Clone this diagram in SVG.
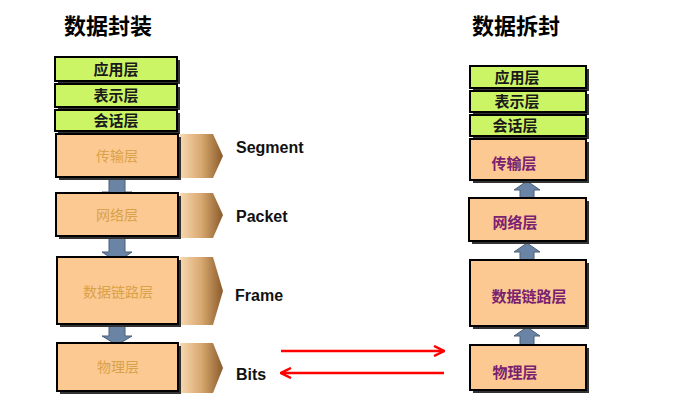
<svg xmlns="http://www.w3.org/2000/svg" width="693" height="414" viewBox="0 0 693 414">
<style>
.title{font-family:"Noto Sans CJK SC","Noto Sans CJK JP",sans-serif;font-size:22px;font-weight:bold;fill:#000}
.g{fill:#ccf566;stroke:#000;stroke-width:2}
.o{fill:#fcc992;stroke:#000;stroke-width:2}
.sh{fill:#333}
.lt{font-family:"Noto Sans CJK SC",sans-serif;font-size:15px;font-weight:bold;fill:#1a1a1a;text-anchor:middle}
.ot{font-family:"Noto Sans CJK SC",sans-serif;font-size:14px;fill:#d9a24a;text-anchor:middle}
.pt{font-family:"Noto Sans CJK SC",sans-serif;font-size:15px;font-weight:bold;fill:#7a2170;text-anchor:middle}
.en{font-family:"Liberation Sans",Arial,sans-serif;font-size:16px;font-weight:bold;fill:#111}
.ar{fill:#6a84a6;stroke:#4a5e78;stroke-width:1}
.red{stroke:#f00;stroke-width:2.5;fill:none}
</style>
<defs>
<linearGradient id="tab" x1="0" x2="1" y1="0" y2="0">
<stop offset="0" stop-color="#f8d8b0"/>
<stop offset="0.5" stop-color="#d8a870"/>
<stop offset="1" stop-color="#8a5a2a"/>
</linearGradient>
<marker id="ah" viewBox="0 0 10 10" refX="9" refY="5" markerWidth="5" markerHeight="5" orient="auto-start-reverse">
<path d="M1,1 L9,5 L1,9" fill="none" stroke="#f00" stroke-width="2"/>
</marker>
</defs>
<text class="title" x="64" y="34">数据封装</text>
<text class="title" x="472" y="34">数据拆封</text>

<g id="connectors">
<path class="ar" d="M109,178 h16 v14 h7 l-15,10 l-15,-10 h7 z"/>
<path class="ar" d="M109,238 h16 v14 h7 l-15,10 l-15,-10 h7 z"/>
<path class="ar" d="M109,326 h16 v10 h7 l-15,9 l-15,-9 h7 z"/>
<path class="ar" d="M520,198 h14 v-8 h6 l-13,-9 l-13,9 h6 z"/>
<path class="ar" d="M520,260 h14 v-8 h6 l-13,-9 l-13,9 h6 z"/>
<path class="ar" d="M520,345 h14 v-9 h6 l-13,-9 l-13,9 h6 z"/>
<line class="red" x1="281" y1="351" x2="444" y2="351" marker-end="url(#ah)"/>
<line class="red" x1="444" y1="373" x2="281" y2="373" marker-end="url(#ah)"/>
</g>

<g id="left-app"><rect class="sh" x="58" y="60" width="122" height="24"/><rect class="g" x="55" y="57" width="122" height="24"/><text class="lt" x="116" y="75">应用层</text></g>
<g id="left-pres"><rect class="sh" x="58" y="87" width="122" height="23"/><rect class="g" x="55" y="84" width="122" height="23"/><text class="lt" x="116" y="101">表示层</text></g>
<g id="left-sess"><rect class="sh" x="58" y="113" width="122" height="21"/><rect class="g" x="55" y="110" width="122" height="21"/><text class="lt" x="116" y="126">会话层</text></g>

<g id="left-trans"><path d="M180,134 h33 l10,22 l-10,22 h-33 z" fill="url(#tab)"/><rect class="sh" x="59" y="137" width="122" height="43"/><rect class="o" x="56" y="134" width="122" height="43"/><text class="ot" x="117" y="161">传输层</text><text class="en" x="236" y="153">Segment</text></g>
<g id="left-net"><path d="M180,193 h33 l10,22 l-10,23 h-33 z" fill="url(#tab)"/><rect class="sh" x="59" y="196" width="122" height="43"/><rect class="o" x="56" y="193" width="122" height="43"/><text class="ot" x="117" y="220">网络层</text><text class="en" x="236" y="222">Packet</text></g>
<g id="left-link"><path d="M180,257 h33 l10,34 l-10,34 h-33 z" fill="url(#tab)"/><rect class="sh" x="60" y="260" width="121" height="67"/><rect class="o" x="57" y="257" width="121" height="67"/><text class="ot" x="118" y="297">数据链路层</text><text class="en" x="235" y="301">Frame</text></g>
<g id="left-phys"><path d="M180,343 h33 l10,25 l-10,25 h-33 z" fill="url(#tab)"/><rect class="sh" x="60" y="346" width="121" height="48"/><rect class="o" x="57" y="343" width="121" height="48"/><text class="ot" x="118" y="372">物理层</text><text class="en" x="236" y="380">Bits</text></g>

<g id="right-app"><rect class="sh" x="473" y="69" width="116" height="22"/><rect class="g" x="470" y="66" width="116" height="22"/><text class="lt" x="517" y="83">应用层</text></g>
<g id="right-pres"><rect class="sh" x="473" y="94" width="116" height="21"/><rect class="g" x="470" y="91" width="116" height="21"/><text class="lt" x="517" y="107">表示层</text></g>
<g id="right-sess"><rect class="sh" x="473" y="118" width="116" height="21"/><rect class="g" x="470" y="115" width="116" height="21"/><text class="lt" x="515" y="131">会话层</text></g>
<g id="right-trans"><rect class="sh" x="473" y="142" width="116" height="41"/><rect class="o" x="470" y="139" width="116" height="41"/><text class="pt" x="514" y="169">传输层</text></g>
<g id="right-net"><rect class="sh" x="472" y="201" width="117" height="43"/><rect class="o" x="469" y="198" width="117" height="43"/><text class="pt" x="515" y="228">网络层</text></g>
<g id="right-link"><rect class="sh" x="473" y="263" width="116" height="66"/><rect class="o" x="470" y="260" width="116" height="66"/><text class="pt" x="529" y="302">数据链路层</text></g>
<g id="right-phys"><rect class="sh" x="473" y="348" width="116" height="45"/><rect class="o" x="470" y="345" width="116" height="45"/><text class="pt" x="515" y="378">物理层</text></g>
</svg>
